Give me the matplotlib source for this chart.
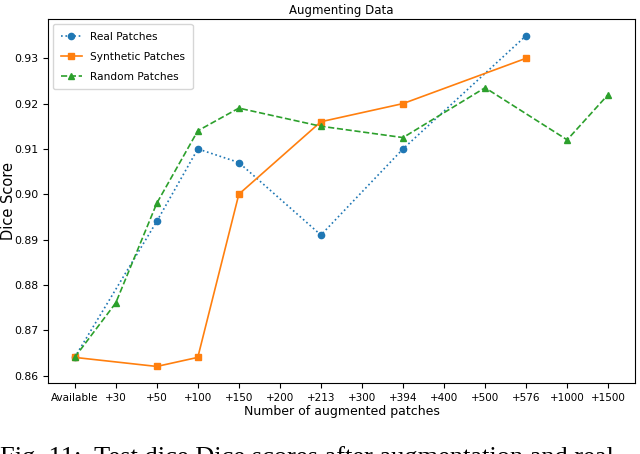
import matplotlib
matplotlib.use("Agg")
import matplotlib.pyplot as plt

# x categories (categorical axis, every label gets a slot)
categories = ['Available', '+30', '+50', '+100', '+150', '+200', '+213',
              '+300', '+394', '+400', '+500', '+576', '+1000', '+1500']

# series values
real_x = ['Available', '+50', '+100', '+150', '+213', '+394', '+576']
real_y = [0.864, 0.894, 0.910, 0.907, 0.891, 0.910, 0.935]

synth_x = ['Available', '+50', '+100', '+150', '+213', '+394', '+576']
synth_y = [0.864, 0.862, 0.864, 0.900, 0.916, 0.920, 0.930]

rand_x = ['Available', '+30', '+50', '+100', '+150', '+213', '+394',
          '+500', '+1000', '+1500']
rand_y = [0.864, 0.876, 0.898, 0.914, 0.919, 0.915, 0.9125, 0.9235,
          0.912, 0.922]

caption = "Fig. 11:  Test dice Dice scores after augmentation and real"

plt.rcParams['font.family'] = ['DejaVu Sans']

fig = plt.figure(figsize=(6.4, 4.54), dpi=100)
ax = fig.add_axes([0.075, 0.1564, 0.917, 0.8016])

pos = {c: i for i, c in enumerate(categories)}

ax.plot([pos[c] for c in real_x], real_y, ':', marker='o', color='C0',
        markersize=4.5, linewidth=1.2, label='Real Patches')
ax.plot([pos[c] for c in synth_x], synth_y, '-', marker='s', color='C1',
        markersize=4.5, linewidth=1.2, label='Synthetic Patches')
ax.plot([pos[c] for c in rand_x], rand_y, '--', marker='^', color='C2',
        markersize=4.5, linewidth=1.2, label='Random Patches')

ax.set_xticks(range(len(categories)))
ax.set_xticklabels(categories, fontsize=7.5)
ax.tick_params(axis='y', labelsize=7.8)
ax.set_yticks([0.86, 0.87, 0.88, 0.89, 0.90, 0.91, 0.92, 0.93])

ax.set_title('Augmenting Data', fontsize=8.5, pad=4)
ax.set_xlabel('Number of augmented patches', fontsize=9, labelpad=2)
ax.set_ylabel('Dice Score', fontsize=10.5)
ax.yaxis.set_label_coords(-0.055, 0.5)
ax.legend(loc='upper left', fontsize=7.6, handlelength=2.0, borderpad=0.7,
          labelspacing=0.95)

fig.text(0.0, 1 - 446 / 454, caption, family=['Liberation Serif', 'DejaVu Serif'],
         fontsize=19, va='top', ha='left')

plt.savefig('out.png', dpi=100)
